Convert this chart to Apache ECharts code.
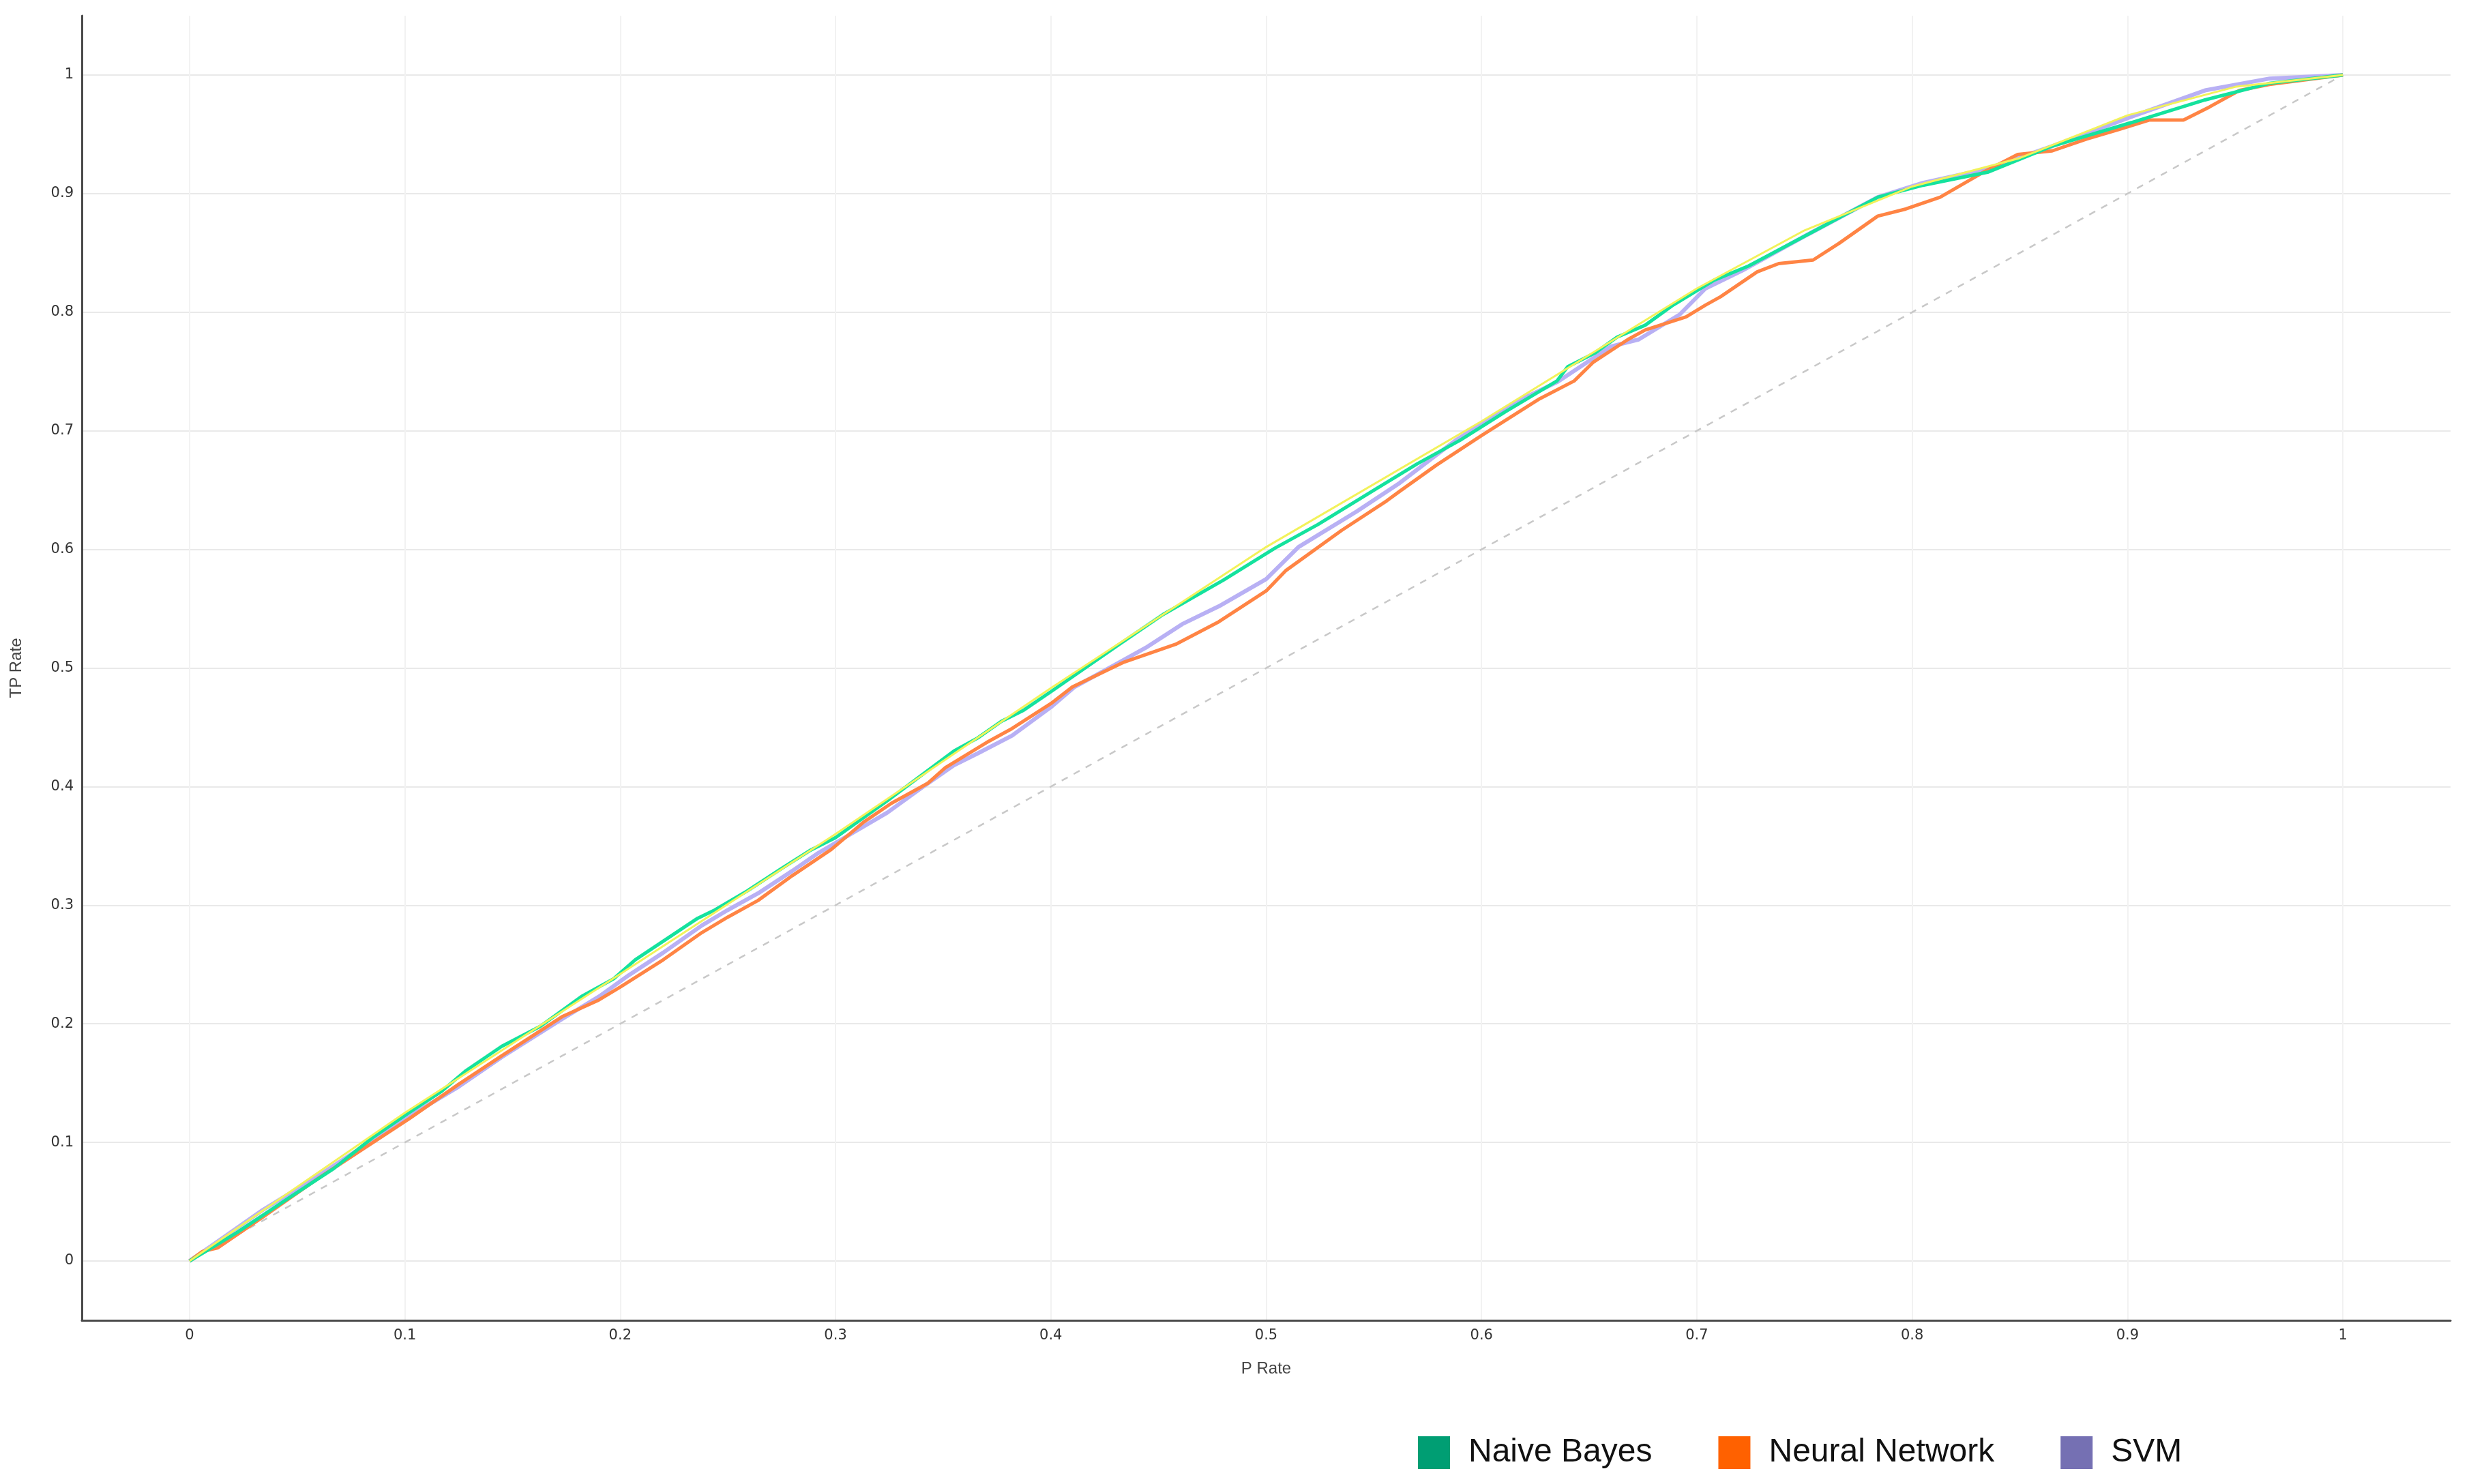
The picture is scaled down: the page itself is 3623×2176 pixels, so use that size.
<!DOCTYPE html>
<html>
<head>
<meta charset="utf-8">
<script src="https://cdn.jsdelivr.net/npm/echarts@6/dist/echarts.min.js"></script>
<style>
  html, body { margin: 0; padding: 0; background: #ffffff; }
  #chart { width: 3623px; height: 2176px; }
</style>
</head>
<body>
<div id="chart"></div>
<script>
// ---- Data (P Rate, TP Rate) ----
const tickLabels = [0, 0.1, 0.2, 0.3, 0.4, 0.5, 0.6, 0.7, 0.8, 0.9, 1];

const seriesNames = ['Naive Bayes', 'Neural Network', 'SVM'];

const nbX = [0, 0.022, 0.046, 0.067, 0.085, 0.101, 0.117, 0.128, 0.145, 0.163, 0.182, 0.197, 0.207, 0.236, 0.244, 0.259, 0.275, 0.288, 0.300, 0.324, 0.355, 0.366, 0.377, 0.387, 0.400, 0.431, 0.452, 0.480, 0.504, 0.524, 0.551, 0.570, 0.590, 0.611, 0.635, 0.640, 0.653, 0.663, 0.676, 0.689, 0.708, 0.724, 0.752, 0.784, 0.805, 0.835, 0.865, 0.902, 0.936, 0.966, 1];
const nbY = [0, 0.024, 0.053, 0.078, 0.104, 0.124, 0.143, 0.160, 0.181, 0.198, 0.223, 0.238, 0.254, 0.289, 0.296, 0.312, 0.331, 0.346, 0.357, 0.388, 0.430, 0.441, 0.455, 0.464, 0.480, 0.519, 0.545, 0.574, 0.601, 0.621, 0.651, 0.672, 0.692, 0.716, 0.742, 0.754, 0.766, 0.779, 0.789, 0.806, 0.827, 0.839, 0.866, 0.897, 0.907, 0.918, 0.940, 0.960, 0.979, 0.993, 1];

const nnX = [0, 0.006, 0.013, 0.034, 0.060, 0.081, 0.102, 0.125, 0.145, 0.173, 0.190, 0.200, 0.220, 0.238, 0.250, 0.264, 0.280, 0.298, 0.313, 0.326, 0.343, 0.351, 0.370, 0.382, 0.400, 0.410, 0.434, 0.458, 0.478, 0.500, 0.509, 0.535, 0.556, 0.562, 0.579, 0.600, 0.627, 0.643, 0.652, 0.668, 0.676, 0.695, 0.704, 0.711, 0.728, 0.738, 0.754, 0.766, 0.784, 0.797, 0.813, 0.833, 0.849, 0.865, 0.881, 0.896, 0.910, 0.926, 0.938, 0.952, 0.966, 0.987, 1];
const nnY = [0, 0.008, 0.011, 0.037, 0.070, 0.095, 0.120, 0.149, 0.173, 0.206, 0.220, 0.231, 0.254, 0.277, 0.290, 0.304, 0.325, 0.347, 0.370, 0.386, 0.403, 0.416, 0.437, 0.449, 0.470, 0.484, 0.505, 0.520, 0.539, 0.565, 0.582, 0.616, 0.641, 0.649, 0.671, 0.696, 0.727, 0.742, 0.758, 0.777, 0.785, 0.796, 0.806, 0.813, 0.834, 0.841, 0.844, 0.858, 0.881, 0.887, 0.897, 0.918, 0.933, 0.936, 0.946, 0.954, 0.962, 0.962, 0.973, 0.987, 0.992, 0.997, 1];

const svmX = [0, 0.010, 0.034, 0.060, 0.081, 0.102, 0.125, 0.145, 0.173, 0.191, 0.204, 0.220, 0.238, 0.250, 0.264, 0.280, 0.292, 0.308, 0.324, 0.340, 0.355, 0.366, 0.382, 0.400, 0.411, 0.430, 0.444, 0.461, 0.478, 0.500, 0.515, 0.542, 0.562, 0.588, 0.619, 0.635, 0.660, 0.673, 0.692, 0.704, 0.721, 0.752, 0.784, 0.805, 0.835, 0.865, 0.902, 0.936, 0.966, 1];
const svmY = [0, 0.0125, 0.043, 0.072, 0.097, 0.122, 0.147, 0.172, 0.204, 0.224, 0.241, 0.260, 0.283, 0.296, 0.310, 0.329, 0.344, 0.361, 0.378, 0.399, 0.418, 0.428, 0.443, 0.467, 0.484, 0.503, 0.517, 0.537, 0.552, 0.575, 0.602, 0.632, 0.656, 0.692, 0.727, 0.741, 0.771, 0.777, 0.798, 0.820, 0.835, 0.866, 0.897, 0.909, 0.921, 0.940, 0.965, 0.987, 0.997, 1];

const hullX = [0, 0.1, 0.2, 0.3, 0.4, 0.5, 0.6, 0.7, 0.75, 0.8, 0.85, 0.9, 0.95, 1];
const hullY = [0, 0.125, 0.242, 0.360, 0.483, 0.602, 0.708, 0.820, 0.869, 0.906, 0.930, 0.966, 0.990, 1];

const diagX = [0, 1];
const diagY = [0, 1];

// ---- Build option ----
function pairs(xs, ys) { return xs.map((x, i) => [x, ys[i]]); }

const legendColors = ['#009E73', '#FF6100', '#7570B3'];
const lineColors = ['#14E29D', '#FF8444', '#B8B0F4'];

function makeAxis(gridColor) {
  return {
    type: 'value',
    min: -0.05,
    max: 1.05,
    minInterval: 0.1,
    maxInterval: 0.1,
    splitNumber: 11,
    axisLine: { show: true, onZero: false, lineStyle: { color: '#4a4a4a', width: 3 } },
    axisTick: { show: false },
    axisLabel: {
      showMinLabel: false, showMaxLabel: false,
      margin: 12, fontSize: 21, color: '#333', fontFamily: 'DejaVu Sans'
    },
    splitLine: { show: true, showMinLine: false, showMaxLine: false, lineStyle: { color: gridColor, width: 2 } },
    nameLocation: 'middle',
    nameTextStyle: { fontSize: 24, color: '#444', fontFamily: 'Liberation Sans' }
  };
}

const chart = echarts.init(document.getElementById('chart'), null, { renderer: 'canvas' });
chart.setOption({
  animation: false,
  backgroundColor: '#ffffff',
  grid: { left: 120, right: 30, top: 23, bottom: 240, containLabel: false },
  xAxis: Object.assign(makeAxis('#f2f2f2'), { name: 'P Rate', nameGap: 59 }),
  yAxis: Object.assign(makeAxis('#e9e9e9'), { name: 'TP Rate', nameGap: 84 }),
  legend: {
    left: 2079, top: 2106,
    icon: 'rect',
    itemWidth: 47, itemHeight: 48, itemGap: 97,
    padding: 0,
    textStyle: { fontSize: 48, color: '#111', fontFamily: 'Liberation Sans', padding: [0, 0, 0, 22] },
    data: seriesNames.map((n, i) => ({ name: n, itemStyle: { color: legendColors[i] } }))
  },
  series: [
    {
      name: 'diagonal', type: 'line', data: pairs(diagX, diagY), showSymbol: false, silent: true,
      lineStyle: { color: '#c8c8c8', width: 2.5, type: [10, 10] }, z: 1
    },
    {
      name: 'SVM', type: 'line', data: pairs(svmX, svmY), showSymbol: false,
      itemStyle: { color: legendColors[2] }, lineStyle: { color: lineColors[2], width: 6 }, z: 2
    },
    {
      name: 'Neural Network', type: 'line', data: pairs(nnX, nnY), showSymbol: false,
      itemStyle: { color: legendColors[1] }, lineStyle: { color: lineColors[1], width: 5 }, z: 3
    },
    {
      name: 'Naive Bayes', type: 'line', data: pairs(nbX, nbY), showSymbol: false,
      itemStyle: { color: legendColors[0] }, lineStyle: { color: lineColors[0], width: 5 }, z: 4
    },
    {
      name: 'hull', type: 'line', data: pairs(hullX, hullY), showSymbol: false, silent: true,
      lineStyle: { color: '#F2F25A', width: 3 }, z: 5
    }
  ]
});
</script>
</body>
</html>
